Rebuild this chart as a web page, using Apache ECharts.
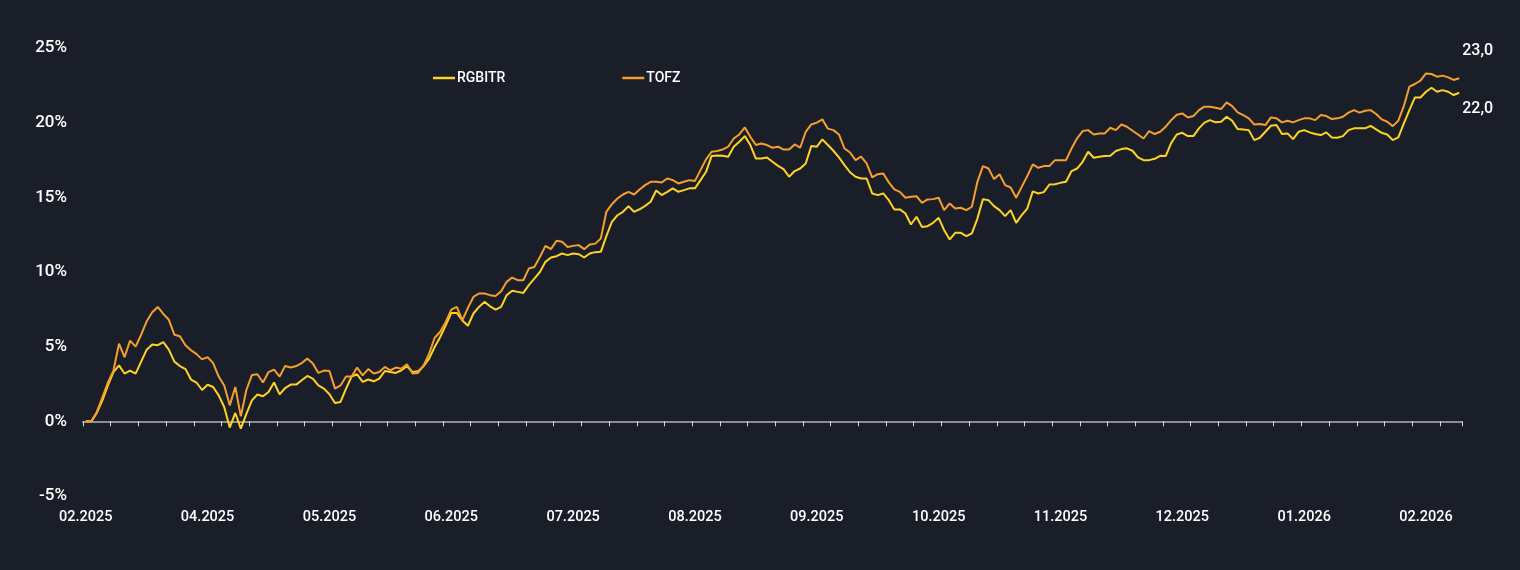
<!DOCTYPE html>
<html>
<head>
<meta charset="utf-8">
<title>RGBITR vs TOFZ</title>
<script src="https://cdn.jsdelivr.net/npm/echarts@6/dist/echarts.min.js"></script>
<style>
  html, body { margin: 0; padding: 0; background: #191e28; }
  #chart { width: 1520px; height: 570px; }
</style>
</head>
<body>
<div id="chart"></div>
<script>
// первый торговый день ряда, дальше только будни
const startDate = '2025-02-28'
const pointCount = 249

const seriesNames = ['RGBITR', 'TOFZ']
const colors = ['#ffd322', '#f59f2d']

// накопленная доходность, %
const rgbitr = [
  0.0, 0.0, 0.56, 1.4, 2.4, 3.3, 3.75, 3.2, 3.4, 3.2,
  4.0, 4.8, 5.14, 5.1, 5.3, 4.8, 4.0, 3.7, 3.5, 2.8,
  2.6, 2.1, 2.45, 2.3, 1.74, 0.96, -0.42, 0.56, -0.49, 0.5,
  1.4, 1.8, 1.68, 1.97, 2.6, 1.81, 2.23, 2.46, 2.46, 2.75,
  3.04, 2.86, 2.41, 2.19, 1.81, 1.23, 1.3, 2.19, 3.0, 3.15,
  2.64, 2.8, 2.68, 2.86, 3.37, 3.3, 3.24, 3.42, 3.69, 3.3,
  3.35, 3.69, 4.2, 4.98, 5.65, 6.43, 7.26, 7.26, 6.75, 6.4,
  7.22, 7.66, 8.0, 7.7, 7.48, 7.66, 8.45, 8.74, 8.67, 8.6,
  9.12, 9.56, 10.0, 10.68, 10.97, 11.06, 11.24, 11.13, 11.24, 11.19,
  10.97, 11.24, 11.33, 11.35, 12.4, 13.36, 13.8, 14.03, 14.41, 14.03,
  14.2, 14.43, 14.7, 15.46, 15.15, 15.37, 15.6, 15.37, 15.48, 15.6,
  15.6, 16.15, 16.71, 17.76, 17.8, 17.78, 17.72, 18.39, 18.72, 19.1,
  18.5, 17.6, 17.6, 17.67, 17.38, 17.11, 16.89, 16.38, 16.76, 16.93,
  17.27, 18.43, 18.39, 18.88, 18.5, 18.12, 17.67, 17.16, 16.68, 16.38,
  16.26, 16.26, 15.26, 15.15, 15.26, 14.81, 14.19, 14.19, 13.92, 13.18,
  13.7, 13.02, 13.07, 13.29, 13.63, 12.8, 12.18, 12.62, 12.62, 12.4,
  12.58, 13.58, 14.88, 14.81, 14.41, 14.14, 13.74, 14.14, 13.29, 13.81,
  14.25, 15.4, 15.26, 15.35, 15.86, 15.88, 15.97, 16.04, 16.76, 16.93,
  17.38, 18.05, 17.65, 17.72, 17.76, 17.78, 18.1, 18.23, 18.28, 18.12,
  17.67, 17.49, 17.49, 17.58, 17.78, 17.76, 18.65, 19.21, 19.32, 19.1,
  19.1, 19.62, 20.0, 20.17, 20.02, 20.06, 20.4, 20.13, 19.57, 19.55,
  19.5, 18.83, 18.99, 19.39, 19.79, 19.84, 19.24, 19.28, 18.9, 19.39,
  19.5, 19.35, 19.24, 19.17, 19.35, 19.01, 18.99, 19.1, 19.5, 19.62,
  19.62, 19.62, 19.79, 19.55, 19.32, 19.21, 18.83, 19.01, 19.95, 20.84,
  21.69, 21.69, 22.07, 22.34, 22.07, 22.18, 22.07, 21.85, 22.0
]

const tofz = [
  0.0, 0.0, 0.63, 1.6, 2.6, 3.4, 5.2, 4.3, 5.4, 5.0,
  5.8, 6.7, 7.3, 7.66, 7.2, 6.8, 5.8, 5.7, 5.1, 4.76,
  4.5, 4.15, 4.3, 3.9, 3.0, 2.4, 1.07, 2.3, 0.33, 2.1,
  3.1, 3.15, 2.6, 3.3, 3.46, 3.0, 3.7, 3.6, 3.7, 3.9,
  4.2, 3.87, 3.24, 3.4, 3.37, 2.19, 2.4, 3.0, 3.0, 3.6,
  3.08, 3.5, 3.2, 3.3, 3.64, 3.42, 3.6, 3.53, 3.82, 3.2,
  3.24, 3.75, 4.53, 5.6, 6.0, 6.66, 7.48, 7.66, 6.77, 7.6,
  8.33, 8.56, 8.56, 8.45, 8.4, 8.71, 9.34, 9.63, 9.45, 9.45,
  10.23, 10.34, 11.0, 11.75, 11.53, 12.09, 12.02, 11.68, 11.75, 11.8,
  11.53, 11.84, 11.9, 12.24, 14.03, 14.54, 14.92, 15.19, 15.37, 15.19,
  15.53, 15.82, 16.04, 16.05, 16.0, 16.26, 16.15, 15.93, 16.04, 16.15,
  16.1, 16.82, 17.54, 18.05, 18.1, 18.2, 18.39, 18.94, 19.21, 19.68,
  19.06, 18.5, 18.6, 18.5, 18.32, 18.39, 18.2, 18.2, 18.54, 18.32,
  19.39, 19.88, 20.0, 20.22, 19.6, 19.5, 19.21, 18.27, 18.0, 17.49,
  17.72, 17.27, 16.33, 16.55, 16.6, 16.0, 15.53, 15.37, 14.97, 15.04,
  15.08, 14.63, 14.86, 14.88, 14.97, 14.14, 14.59, 14.25, 14.3, 14.14,
  14.37, 16.04, 17.09, 16.93, 16.22, 16.55, 15.82, 15.66, 14.97, 15.7,
  16.42, 17.2, 16.98, 17.09, 17.09, 17.49, 17.49, 17.49, 18.27, 18.95,
  19.44, 19.5, 19.21, 19.28, 19.28, 19.66, 19.5, 19.88, 19.73, 19.46,
  19.21, 18.94, 19.44, 19.24, 19.39, 19.73, 20.17, 20.53, 20.62, 20.35,
  20.44, 20.84, 21.07, 21.07, 21.0, 20.91, 21.36, 21.11, 20.69, 20.5,
  20.29, 19.88, 19.91, 19.84, 20.35, 20.29, 20.02, 20.13, 20.02, 20.17,
  20.29, 20.29, 20.17, 20.51, 20.44, 20.24, 20.29, 20.4, 20.67, 20.84,
  20.67, 20.8, 20.84, 20.58, 20.22, 20.06, 19.77, 20.13, 21.11, 22.41,
  22.59, 22.81, 23.3, 23.26, 23.08, 23.15, 23.03, 22.86, 22.97
]

const yTicks = { min: -5, max: 25, step: 5 }

/** рабочие дни подряд, начиная со startDate */
function buildDates(start, count) {
  const out = []
  const d = new Date(start + 'T00:00:00Z')
  while (out.length < count) {
    const wd = d.getUTCDay()
    if (wd !== 0 && wd !== 6) out.push(d.toISOString().slice(0, 10))
    d.setUTCDate(d.getUTCDate() + 1)
  }
  return out
}

const dates = buildDates(startDate, pointCount)

function monthLabel(s) {
  const [y, m] = s.split('-')
  return m + '.' + y
}

const textColor = '#ffffff'
const fontFamily = 'Roboto, "Noto Sans", sans-serif'

function endLabel(dy) {
  return {
    show: true,
    position: 'right',
    distance: 3,
    offset: [0, dy],
    color: textColor,
    fontSize: 16,
    fontWeight: 500,
    fontFamily,
    formatter: (p) => Number(p.value).toFixed(1).replace('.', ',')
  }
}

const chart = echarts.init(document.getElementById('chart'), null, { renderer: 'canvas' })

chart.setOption({
  backgroundColor: '#191e28',
  animation: false,
  textStyle: { fontFamily },
  legend: {
    data: seriesNames,
    left: 433,
    top: 71,
    padding: 0,
    icon: 'rect',
    itemWidth: 22,
    itemHeight: 2.5,
    itemGap: 117,
    textStyle: { color: textColor, fontSize: 14, fontWeight: 500, padding: [0, 0, 0, -3] }
  },
  grid: { left: 83, right: 58, top: 48, bottom: 74 },
  xAxis: [
    {
      // линия и засечки по нулю
      type: 'category',
      data: dates,
      boundaryGap: true,
      axisLine: { show: true, onZero: true, lineStyle: { color: '#8b8e95', width: 2 } },
      axisTick: { show: true, interval: 4, length: 5, lineStyle: { color: '#d5d7da', width: 1 } },
      axisLabel: { show: false },
      splitLine: { show: false }
    },
    {
      // подписи месяцев внизу
      type: 'category',
      data: dates,
      position: 'bottom',
      boundaryGap: true,
      axisLine: { show: false, onZero: false },
      axisTick: { show: false },
      axisLabel: {
        interval: 21,
        margin: 14,
        color: textColor,
        fontSize: 14.5,
        fontWeight: 500,
        formatter: monthLabel
      },
      splitLine: { show: false }
    }
  ],
  yAxis: {
    type: 'value',
    min: yTicks.min,
    max: yTicks.max,
    interval: yTicks.step,
    axisLine: { show: false },
    axisTick: { show: false },
    splitLine: { show: false },
    axisLabel: {
      color: textColor,
      fontSize: 17,
      fontWeight: 500,
      margin: 16,
      padding: [4, 0, 0, 0],
      formatter: '{value}%'
    }
  },
  series: [
    {
      name: seriesNames[0],
      type: 'line',
      xAxisIndex: 0,
      data: rgbitr,
      showSymbol: false,
      color: colors[0],
      lineStyle: { width: 2, color: colors[0] },
      endLabel: endLabel(16)
    },
    {
      name: seriesNames[1],
      type: 'line',
      xAxisIndex: 0,
      data: tofz,
      showSymbol: false,
      color: colors[1],
      lineStyle: { width: 2, color: colors[1] },
      endLabel: endLabel(-27)
    }
  ]
})
</script>
</body>
</html>
